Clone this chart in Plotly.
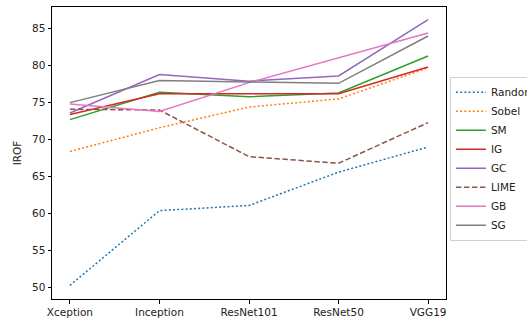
import plotly.graph_objects as go

models = ["Xception", "Inception", "ResNet101", "ResNet50", "VGG19"]
random_vals = [50.3, 60.4, 61.1, 65.6, 69.0]
sobel_vals = [68.4, 71.6, 74.4, 75.5, 79.7]
sm_vals = [72.7, 76.4, 75.8, 76.3, 81.3]
ig_vals = [73.4, 76.2, 76.2, 76.2, 79.8]
gc_vals = [73.6, 78.8, 77.9, 78.6, 86.2]
lime_vals = [74.1, 74.0, 67.7, 66.8, 72.3]
gb_vals = [74.8, 73.8, 77.7, 81.1, 84.4]
sg_vals = [75.0, 78.0, 77.8, 77.6, 84.0]
y_ticks = [50, 55, 60, 65, 70, 75, 80, 85]

series = [
    ("Random", random_vals, "#1f77b4", "2px,2.2px"),
    ("Sobel", sobel_vals, "#ff7f0e", "2px,2.2px"),
    ("SM", sm_vals, "#2ca02c", "solid"),
    ("IG", ig_vals, "#d62728", "solid"),
    ("GC", gc_vals, "#9467bd", "solid"),
    ("LIME", lime_vals, "#8c564b", "5.5px,2.5px"),
    ("GB", gb_vals, "#e377c2", "solid"),
    ("SG", sg_vals, "#7f7f7f", "solid"),
]

fig = go.Figure()
for name, vals, color, dash in series:
    fig.add_trace(go.Scatter(
        x=list(range(len(models))), y=vals, name=name, mode="lines",
        line=dict(color=color, width=1.5, dash=dash),
    ))

axis_common = dict(
    showline=True, mirror=True, linecolor="black", linewidth=1,
    ticks="outside", ticklen=3.5, tickwidth=1, tickcolor="black",
    showgrid=False, zeroline=False,
    tickfont=dict(family="DejaVu Sans", size=10.5, color="#222"),
)

fig.update_layout(
    width=527, height=318,
    margin=dict(l=52, r=81, t=7, b=19, autoexpand=False),
    plot_bgcolor="white", paper_bgcolor="white",
    font=dict(family="DejaVu Sans", size=10, color="#222"),
    xaxis=dict(tickvals=list(range(len(models))), ticktext=models,
               range=[-0.2, 4.2], **axis_common),
    yaxis=dict(tickvals=y_ticks, range=[48.46, 87.92],
               title=dict(text="IROF", standoff=8,
                          font=dict(family="DejaVu Sans", size=10.5, color="#222")),
               **axis_common),
    legend=dict(x=1.01, xanchor="left", y=0.48, yanchor="middle",
                bgcolor="white", bordercolor="#d0d0d0", borderwidth=1,
                font=dict(family="DejaVu Sans", size=10.5, color="#222"),
                itemwidth=30, tracegroupgap=0),
)

fig.write_html("out.html", config={"displayModeBar": False},
               post_script="document.body.style.margin='0';document.body.style.overflow='hidden';")
